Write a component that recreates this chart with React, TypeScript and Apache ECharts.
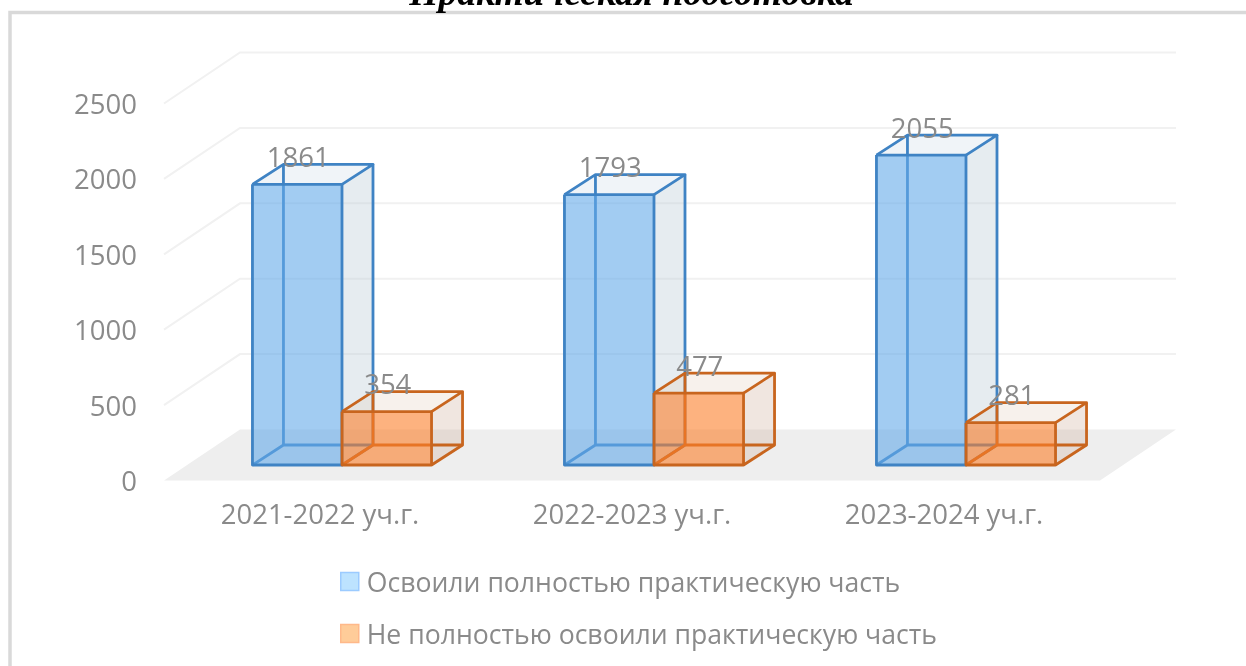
import React, { useEffect, useRef } from "react";
import * as echarts from "echarts";

const titleText = "Практическая подготовка";
const categories = ["2021-2022 уч.г.", "2022-2023 уч.г.", "2023-2024 уч.г."];
const fullName = "Освоили полностью практическую часть";
const partName = "Не полностью освоили практическую часть";
const fullValues = [1861, 1793, 2055];
const partValues = [354, 477, 281];
const yTicks = [0, 500, 1000, 1500, 2000, 2500];

const FONT = "'Open Sans', sans-serif";
const GRAY = "#8a8a8a";

function pts(...p: number[][]) {
  return { points: p };
}

function boxRenderer(side: "left" | "right", theme: any) {
  return (params: any, api: any) => {
    const i = api.value(0);
    const v = api.value(1);
    const band = api.size([1, 0])[0];
    const w = band * 0.287;
    const [cx, yTop0] = api.coord([i, v]);
    const yBase0 = api.coord([i, 0])[1];
    const shiftX = band * 0.0705;
    const shiftY = -15.5;
    const dx = 31;
    const dy = -20;
    const l = cx + shiftX - (side === "left" ? w : 0);
    const r = l + w;
    const t = yTop0 + shiftY;
    const b = yBase0 + shiftY;
    const line = { stroke: theme.stroke, lineWidth: 2.8, lineJoin: "round", fill: "none" };
    const face = (points: number[][], fill: string) => ({
      type: "polygon",
      shape: pts(...points),
      style: { fill, stroke: "none" },
    });
    const edge = (points: number[][]) => ({
      type: "polyline",
      shape: pts(...points),
      style: line,
    });
    return {
      type: "group",
      children: [
        face([[r, t], [r + dx, t + dy], [r + dx, b + dy], [r, b]], theme.side),
        face([[l, t], [l + dx, t + dy], [r + dx, t + dy], [r, t]], theme.top),
        edge([[l, b], [l + dx, b + dy], [r + dx, b + dy]]),
        edge([[l + dx, b + dy], [l + dx, t + dy]]),
        face([[l, t], [r, t], [r, b], [l, b]], theme.front),
        edge([[l, t], [r, t], [r, b], [l, b], [l, t]]),
        edge([[l, t], [l + dx, t + dy], [r + dx, t + dy], [r, t]]),
        edge([[r + dx, t + dy], [r + dx, b + dy], [r, b]]),
        {
          type: "text",
          style: {
            x: (l + r) / 2 + 1,
            y: t - 28,
            text: String(v),
            fill: GRAY,
            font: `27.5px ${FONT}`,
            align: "center",
            verticalAlign: "middle",
          },
        },
      ],
    };
  };
}

const blue = {
  stroke: "#3f83c4",
  front: "rgba(100,170,233,0.6)",
  side: "rgba(192,207,218,0.4)",
  top: "rgba(205,219,232,0.3)",
};
const orange = {
  stroke: "#c8651e",
  front: "rgba(252,127,41,0.6)",
  side: "rgba(205,172,152,0.3)",
  top: "rgba(228,208,192,0.3)",
};

function backdrop(params: any, api: any) {
  const v = api.value(0);
  const y = api.coord([0, v])[1];
  const gx = params.coordSys.x;
  const gw = params.coordSys.width;
  const dx = 76;
  const dy = -51;
  const children: any[] = [];
  if (v === 0) {
    children.push({
      type: "polygon",
      shape: pts([gx, y], [gx + dx, y + dy], [gx + gw + dx, y + dy], [gx + gw, y]),
      style: { fill: "#eeeeee", stroke: "none" },
    });
  } else {
    children.push({
      type: "polyline",
      shape: pts([gx, y], [gx + dx, y + dy], [gx + gw + dx, y + dy]),
      style: { stroke: "#f1f1f1", lineWidth: 2, fill: "none" },
    });
  }
  return { type: "group", children };
}

export default function App() {
  const ref = useRef<HTMLDivElement>(null);
  useEffect(() => {
    document.body.style.margin = "0";
    const chart = echarts.init(ref.current!, undefined, { renderer: "svg" });
    chart.setOption({
      animation: false,
      backgroundColor: "#ffffff",
      graphic: [
        {
          type: "polyline",
          silent: true,
          shape: pts([10, 666], [10, 12.5], [1246, 12.5]),
          style: { stroke: "#d9d9d9", lineWidth: 3.5, fill: "none" },
        },
        {
          type: "text",
          x: 631.5,
          y: -26.5,
          style: {
            text: titleText,
            fill: "#000000",
            font: `italic bold 37.5px 'Liberation Serif', serif`,
            align: "center",
            verticalAlign: "top",
          },
        },
      ],
      grid: { left: 164, width: 936, top: 103.5, height: 377 },
      xAxis: {
        type: "category",
        data: categories,
        axisLine: { show: false },
        axisTick: { show: false },
        splitLine: { show: false },
        axisLabel: { color: GRAY, fontFamily: FONT, fontSize: 27.5, margin: 19 },
      },
      yAxis: {
        type: "value",
        min: 0,
        max: 2500,
        interval: 500,
        axisLine: { show: false },
        axisTick: { show: false },
        splitLine: { show: false },
        axisLabel: {
          color: GRAY,
          fontFamily: FONT,
          fontSize: 27.5,
          margin: 27,
          formatter: (v: number) => String(v),
        },
      },
      legend: {
        orient: "vertical",
        left: 335,
        top: 563,
        itemWidth: 18,
        itemHeight: 18,
        itemGap: 25,
        icon: "rect",
        textStyle: { color: GRAY, fontFamily: FONT, fontSize: 26.6, padding: [0, 0, 0, 3] },
        data: [
          { name: fullName, itemStyle: { color: "#bde3ff", borderColor: "#9ccbff", borderWidth: 1.5 } },
          { name: partName, itemStyle: { color: "#ffcc99", borderColor: "#ffb98a", borderWidth: 1.5 } },
        ],
      },
      series: [
        {
          type: "custom",
          name: "backdrop",
          z: 1,
          silent: true,
          data: yTicks.map((v) => [v]),
          encode: { y: 0 },
          renderItem: backdrop,
        },
        {
          type: "custom",
          name: fullName,
          z: 2,
          itemStyle: { color: "#bde3ff" },
          data: fullValues.map((v, i) => [i, v]),
          encode: { x: 0, y: 1 },
          renderItem: boxRenderer("left", blue),
        },
        {
          type: "custom",
          name: partName,
          z: 3,
          itemStyle: { color: "#ffcc99" },
          data: partValues.map((v, i) => [i, v]),
          encode: { x: 0, y: 1 },
          renderItem: boxRenderer("right", orange),
        },
      ],
    });
    return () => chart.dispose();
  }, []);
  return <div ref={ref} style={{ width: 1246, height: 666, filter: "blur(0.4px)" }} />;
}
